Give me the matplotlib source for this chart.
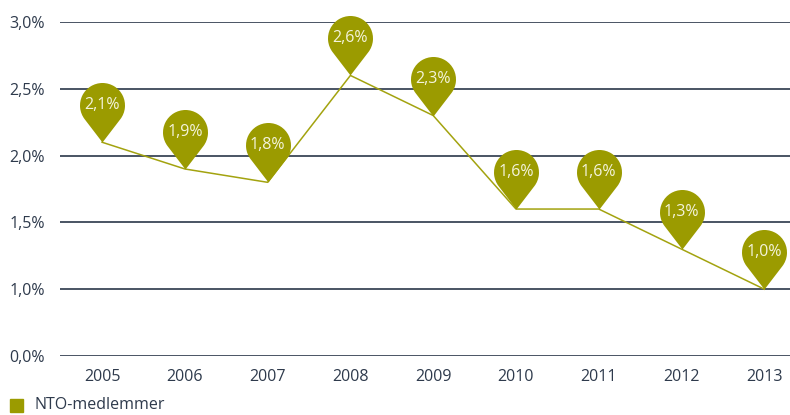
import numpy as np
import matplotlib
matplotlib.use('Agg')
import matplotlib.pyplot as plt
from matplotlib.path import Path

# data
years = ['2005', '2006', '2007', '2008', '2009', '2010', '2011', '2012', '2013']
values = [2.1, 1.9, 1.8, 2.6, 2.3, 1.6, 1.6, 1.3, 1.0]
labels = ['2,1%', '1,9%', '1,8%', '2,6%', '2,3%', '1,6%', '1,6%', '1,3%', '1,0%']
series_name = 'NTO-medlemmer'
# axis is broken: the lowest gridline is labelled 0,0% but sits where 0,5% would be
ytick_vals = [0.5, 1.0, 1.5, 2.0, 2.5, 3.0]
ytick_labels = ['0,0%', '1,0%', '1,5%', '2,0%', '2,5%', '3,0%']

OLIVE = '#9b9b00'
GRID = '#3b4757'
TXT = '#2e3a4c'
FS = 11.5

plt.rcParams['font.family'] = ['Open Sans', 'DejaVu Sans']


def pin_path(r=22.5, d=37.0):
    """Map-pin shape with the tip at (0, 0) and circle centre at (0, d)."""
    a = np.degrees(np.arccos(r / d))
    arc = Path.arc(-90 + a, 270 - a)
    verts = arc.vertices * r + np.array([0, d])
    verts = np.vstack([[0, 0], verts, [0, 0]])
    codes = [Path.MOVETO, Path.LINETO] + list(arc.codes[1:]) + [Path.CLOSEPOLY]
    return Path(verts, codes), r + d


fig = plt.figure(figsize=(7.9, 4.15), dpi=100)
ax = fig.add_axes([60 / 790, 1 - 356 / 415, 730 / 790, (356 - 22) / 415])

x = np.arange(len(years))
ax.plot(x, values, color='#a3a30f', lw=1.1, zorder=2)

pin, extent = pin_path()
ms = 2 * extent * 72 / fig.dpi
ax.plot(x, values, ls='none', marker=pin, markersize=ms,
        markerfacecolor=OLIVE, markeredgewidth=0, zorder=3, clip_on=False)

for xi, v, lab in zip(x, values, labels):
    ax.annotate(lab, (xi, v), xytext=(0, 37.0 * 72 / fig.dpi), textcoords='offset points',
                ha='center', va='center', fontsize=FS, color='#f4f4dc', zorder=4)

ax.set_xlim(-0.508, 8.31)
ax.set_ylim(0.5, 3.0)
ax.set_xticks(x)
ax.set_xticklabels(years)
ax.set_yticks(ytick_vals)
ax.set_yticklabels(ytick_labels)
ax.tick_params(length=0, labelsize=FS, colors=TXT)
ax.tick_params(axis='y', pad=11)
ax.tick_params(axis='x', pad=9)
ax.grid(axis='y', color=GRID, lw=1.3)
ax.set_axisbelow(True)
for s in ax.spines.values():
    s.set_visible(False)

# legend
fig.patches.append(plt.Rectangle((10 / 790, 1 - 412 / 415), 13 / 790, 13 / 415,
                                 transform=fig.transFigure, color=OLIVE))
fig.text(35 / 790, 1 - 405 / 415, series_name, fontsize=FS, color=TXT, va='center')

fig.savefig('out.png', dpi=100)
